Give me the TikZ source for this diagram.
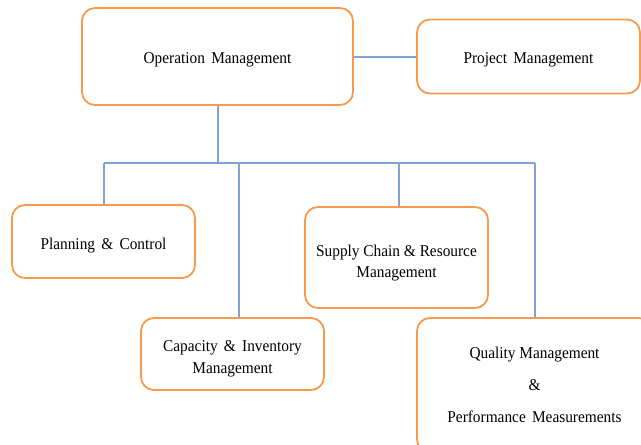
\documentclass[tikz,border=0pt]{standalone}
\usepackage{fontspec}
\setmainfont[FakeStretch=0.93]{Liberation Serif}
\definecolor{boxorange}{HTML}{F79A4E}
\definecolor{lineblue}{HTML}{7FA3D6}
\newcommand\ws{\hspace{0.38em}}
\newcommand\lowerby[2]{\raisebox{-#1}[\height][\depth]{#2}}
\begin{document}
\begin{tikzpicture}[x=1pt,y=1pt,
  box/.style={draw=boxorange, line width=1.8pt, rounded corners=13pt, fill=white,
    align=center, inner sep=0pt, font=\fontsize{16.5}{21.5}\selectfont},
  link/.style={draw=lineblue, line width=1.1pt}]
\clip (0,0) rectangle (641,-445);
\fill[white] (0,0) rectangle (641,-445);
\node[box, minimum width=271pt, minimum height=97pt] (op) at (217.5,-56.5) {\lowerby{3pt}{Operation\ws Management}};
\node[box, minimum width=223pt, minimum height=74pt] (proj) at (528.5,-56.5) {\lowerby{3pt}{Project\ws Management}};
\node[box, minimum width=183pt, minimum height=73pt] (plan) at (103.5,-241.5) {\lowerby{4pt}{Planning\ws\&\ws Control}};
\node[box, minimum width=183pt, minimum height=101pt] (supply) at (396.5,-257.5) {\lowerby{5pt}{\begin{tabular}{@{}c@{}}Supply Chain \& Resource\\Management\end{tabular}}};
\node[box, minimum width=183pt, minimum height=72pt] (cap) at (232.5,-354) {\lowerby{4pt}{\begin{tabular}{@{}c@{}}Capacity\ws\&\ws Inventory\\Management\end{tabular}}};
\node[box, minimum width=235pt, minimum height=134pt] (qual) at (534.5,-385) {Quality Management\\[10.5pt]\&\\[10.5pt]Performance\ws Measurements};
\coordinate (lk) at (385,-57);
\coordinate (bl) at (104,-163);
\coordinate (br) at (535,-163);
\coordinate (bc) at (239,-163);
\coordinate (bs) at (399,-163);
\coordinate (bo) at (218,-163);
\draw[link] (op.east |- lk) -- (proj.west |- lk);
\draw[link] (bo) -- (bo |- op.south);
\draw[link] (bl) -- (br);
\draw[link] (bl) -- (bl |- plan.north);
\draw[link] (bc) -- (bc |- cap.north);
\draw[link] (bs) -- (bs |- supply.north);
\draw[link] (br) -- (br |- qual.north);
\end{tikzpicture}
\end{document}
